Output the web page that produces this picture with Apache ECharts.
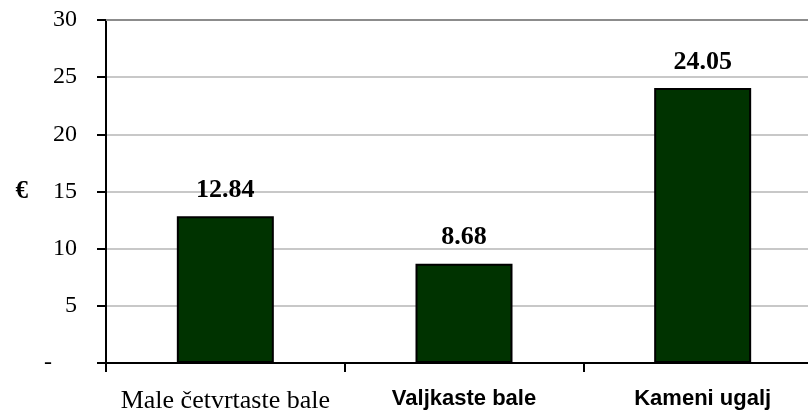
<!DOCTYPE html>
<html>
<head>
<meta charset="utf-8">
<style>
  html, body { margin: 0; padding: 0; background: #fff; overflow: hidden; }
  /* the plot area runs a little past the right edge of the window */
  #chart { width: 822px; height: 418px; }
</style>
<script src="https://cdn.jsdelivr.net/npm/echarts@6/dist/echarts.min.js"></script>
</head>
<body>
<div id="chart"></div>
<script>
// Fuel cost per unit, in euro
const categories = ['Male četvrtaste bale', 'Valjkaste bale', 'Kameni ugalj'];
const costs = [12.84, 8.68, 24.05];
const yTicks = [0, 5, 10, 15, 20, 25, 30];

const serif = '"Liberation Serif", "Times New Roman", serif';
const sans = '"Liberation Sans", Arial, sans-serif';

const chart = echarts.init(document.getElementById('chart'), null, { renderer: 'canvas' });

chart.setOption({
  animation: false,
  backgroundColor: '#ffffff',
  grid: { left: 106, right: 0, top: 20, bottom: 55, containLabel: false },
  xAxis: [{
    type: 'category',
    data: categories,
    axisLine: { show: true, lineStyle: { color: '#000', width: 2 } },
    axisTick: { show: true, length: 9, alignWithLabel: false, lineStyle: { color: '#000', width: 2 } },
    axisLabel: {
      margin: 25,
      color: '#000',
      formatter: function (v, i) { return i === 0 ? '{a|' + v + '}' : '{b|' + v + '}'; },
      rich: {
        a: { fontFamily: serif, fontSize: 26, color: '#000' },
        b: { fontFamily: sans, fontSize: 22, fontWeight: 'bold', color: '#000' }
      }
    },
    splitLine: { show: false }
  }, {
    // top border of the plot area
    type: 'category',
    position: 'top',
    data: categories,
    axisLine: { show: true, lineStyle: { color: '#8c8c8c', width: 2 } },
    axisTick: { show: false },
    axisLabel: { show: false }
  }],
  yAxis: {
    type: 'value',
    min: yTicks[0],
    max: yTicks[yTicks.length - 1],
    interval: 5,
    name: '€',
    nameLocation: 'middle',
    nameRotate: 0,
    nameGap: 78,
    nameTextStyle: { fontFamily: serif, fontSize: 25, fontWeight: 'bold', color: '#000' },
    axisLine: { show: true, lineStyle: { color: '#000', width: 2 } },
    axisTick: { show: true, length: 9, lineStyle: { color: '#000', width: 2 } },
    axisLabel: {
      margin: 29,
      color: '#000',
      fontFamily: serif,
      fontSize: 24,
      formatter: function (v) { return v === 0 ? '{z|-}' : String(v); },
      rich: { z: { fontFamily: serif, fontSize: 24, color: '#000', padding: [0, 25, 0, 0] } }
    },
    splitLine: { show: true, lineStyle: { color: '#c8c8c8', width: 2 } }
  },
  series: [{
    type: 'bar',
    data: costs,
    barWidth: 97,
    itemStyle: { color: '#003300', borderColor: '#000', borderWidth: 2 },
    label: {
      show: true,
      position: 'top',
      distance: 13,
      fontFamily: serif,
      fontSize: 26,
      fontWeight: 'bold',
      color: '#000',
      formatter: function (p) { return p.value.toFixed(2); }
    }
  }]
});
</script>
</body>
</html>
